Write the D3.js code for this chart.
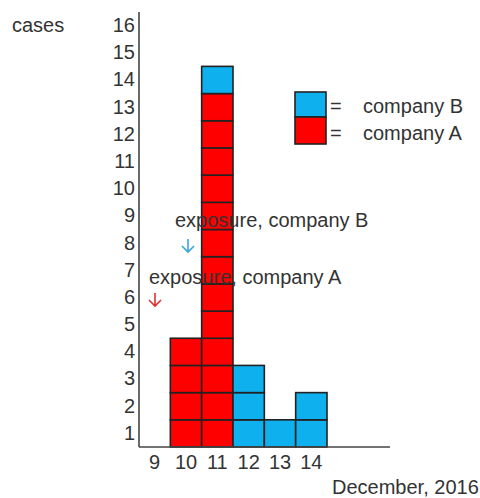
<!DOCTYPE html>
<html>
<head>
<meta charset="utf-8">
<script src="https://cdn.jsdelivr.net/npm/d3@7"></script>
<style>
  body { margin: 0; background: #fff; }
  text { font-family: "Liberation Sans", Arial, sans-serif; fill: #333; }
</style>
</head>
<body>
<div id="chart"></div>
<script>
// data
const days = ["9", "10", "11", "12", "13", "14"];
const companyA = [0, 4, 13, 0, 0, 0];
const companyB = [0, 0, 1, 3, 1, 2];
const yLabels = d3.range(1, 17).map(String);

const width = 480, height = 498;
const fs = "20px";
const svg = d3.select("#chart").append("svg")
    .attr("width", width)
    .attr("height", height);

// scales
const x = d3.scaleBand().domain(days).range([139, 327]).padding(0);
const y = d3.scaleLinear().domain([0, 16]).range([447, 12]);
const yRows = d3.scaleBand().domain(yLabels).range([447, 12]).padding(0);

const cBlue = "#0fb0ee", cRed = "#ff0000";

// build one cell per case
const cells = [];
days.forEach((d, i) => {
    for (let k = 0; k < companyA[i]; k++) cells.push({ day: d, level: k, color: cRed });
    for (let k = 0; k < companyB[i]; k++) cells.push({ day: d, level: companyA[i] + k, color: cBlue });
});

svg.selectAll(".cell")
    .data(cells)
    .enter().append("rect")
    .attr("class", "cell")
    .attr("x", d => x(d.day))
    .attr("y", d => y(d.level + 1))
    .attr("width", x.bandwidth())
    .attr("height", y(0) - y(1))
    .attr("fill", d => d.color)
    .attr("stroke", "#222")
    .attr("stroke-width", 1.6);

// y axis
const yAxis = svg.append("g")
    .attr("transform", "translate(139,0)")
    .call(d3.axisLeft(yRows).tickSize(0).tickPadding(4));
yAxis.select(".domain").remove();
yAxis.selectAll("text")
    .style("font-size", fs)
    .style("font-family", "'Liberation Sans', Arial, sans-serif")
    .attr("fill", "#333");

svg.append("line")
    .attr("x1", 139).attr("x2", 139)
    .attr("y1", y(16)).attr("y2", y(0))
    .attr("stroke", "#444").attr("stroke-width", 1.6);

// x axis
const xAxis = svg.append("g")
    .attr("transform", `translate(0,${y(0)})`)
    .call(d3.axisBottom(x).tickSize(0).tickPadding(8));
xAxis.select(".domain").remove();
xAxis.selectAll("text")
    .style("font-size", fs)
    .style("font-family", "'Liberation Sans', Arial, sans-serif")
    .attr("fill", "#333");

svg.append("line")
    .attr("x1", 139).attr("x2", 390)
    .attr("y1", y(0)).attr("y2", y(0))
    .attr("stroke", "#444").attr("stroke-width", 1.6);

// axis titles
svg.append("text")
    .attr("x", 12).attr("y", 32)
    .style("font-size", fs)
    .text("cases");

svg.append("text")
    .attr("x", 332).attr("y", 494)
    .style("font-size", fs)
    .text("December, 2016");

// legend
const legend = svg.append("g");
legend.append("rect")
    .attr("x", 295).attr("y", 92).attr("width", 31).attr("height", 25)
    .attr("fill", cBlue).attr("stroke", "#222").attr("stroke-width", 1.6);
legend.append("rect")
    .attr("x", 295).attr("y", 117).attr("width", 31).attr("height", 27)
    .attr("fill", cRed).attr("stroke", "#222").attr("stroke-width", 1.6);
legend.append("text").attr("x", 330).attr("y", 113).style("font-size", fs).text("=");
legend.append("text").attr("x", 330).attr("y", 140).style("font-size", fs).text("=");
legend.append("text").attr("x", 363).attr("y", 113).style("font-size", fs).text("company B");
legend.append("text").attr("x", 363).attr("y", 140).style("font-size", fs).text("company A");

// exposure annotations
const notes = [
    { label: "exposure, company B", tx: 175, ty: 227, ax: 188, ay: 239, color: "#3aa6d8" },
    { label: "exposure, company A", tx: 149, ty: 284, ax: 155, ay: 293, color: "#e03030" }
];

notes.forEach(n => {
    svg.append("text")
        .attr("x", n.tx).attr("y", n.ty)
        .style("font-size", fs)
        .text(n.label);
    svg.append("path")
        .attr("d", `M${n.ax},${n.ay} V${n.ay + 13} M${n.ax - 6},${n.ay + 7} L${n.ax},${n.ay + 13} L${n.ax + 6},${n.ay + 7}`)
        .attr("fill", "none")
        .attr("stroke", n.color)
        .attr("stroke-width", 1.6);
});
</script>
</body>
</html>
